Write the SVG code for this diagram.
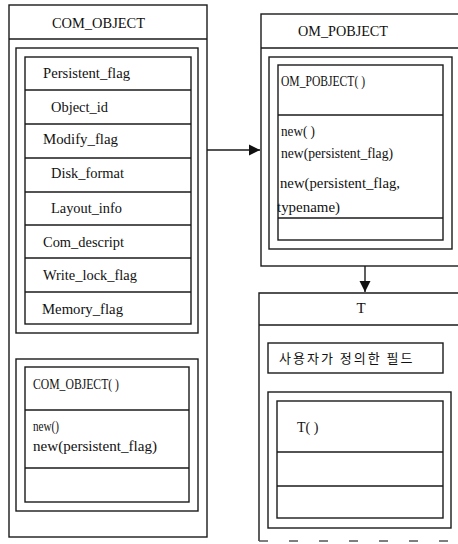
<svg xmlns="http://www.w3.org/2000/svg" width="458" height="544" viewBox="0 0 458 544">
<style>
.b{fill:none;stroke:#1a1a1a;stroke-width:1.4}
.l{stroke:#1a1a1a;stroke-width:1.4}
.t{font-family:"Liberation Serif","Times New Roman",serif;font-size:15px;fill:#111}
.m{font-family:"Liberation Serif","Times New Roman",serif;font-size:14px;fill:#111}
.k{font-family:"Noto Sans CJK KR","Noto Sans",sans-serif;font-size:13px;fill:#111;letter-spacing:2px}
</style>
<defs>
<marker id="ah" markerWidth="12" markerHeight="12" refX="11" refY="6" orient="auto" markerUnits="userSpaceOnUse">
<path d="M0,0.5 L11,6 L0,11.5 Z" fill="#111"/>
</marker>
</defs>
<rect width="458" height="544" fill="#fff"/>

<g id="com_object">
<rect class="b" x="9" y="5" width="198" height="532"/>
<line class="l" x1="9" y1="39" x2="207" y2="39"/>
<text class="t" x="52" y="28" textLength="93" lengthAdjust="spacingAndGlyphs">COM_OBJECT</text>
<rect class="b" x="16" y="48" width="182" height="285"/>
<rect class="b" x="25" y="57" width="166" height="267"/>
<line class="l" x1="25" y1="90" x2="191" y2="90"/>
<line class="l" x1="25" y1="124" x2="191" y2="124"/>
<line class="l" x1="25" y1="158" x2="191" y2="158"/>
<line class="l" x1="25" y1="192" x2="191" y2="192"/>
<line class="l" x1="25" y1="225" x2="191" y2="225"/>
<line class="l" x1="25" y1="258" x2="191" y2="258"/>
<line class="l" x1="25" y1="292" x2="191" y2="292"/>
<text class="m" x="43" y="78" textLength="87" lengthAdjust="spacingAndGlyphs">Persistent_flag</text>
<text class="m" x="51" y="112" textLength="57" lengthAdjust="spacingAndGlyphs">Object_id</text>
<text class="m" x="43" y="144" textLength="75" lengthAdjust="spacingAndGlyphs">Modify_flag</text>
<text class="m" x="51" y="178" textLength="73" lengthAdjust="spacingAndGlyphs">Disk_format</text>
<text class="m" x="51" y="213" textLength="71" lengthAdjust="spacingAndGlyphs">Layout_info</text>
<text class="m" x="43" y="247" textLength="81" lengthAdjust="spacingAndGlyphs">Com_descript</text>
<text class="m" x="43" y="280" textLength="94" lengthAdjust="spacingAndGlyphs">Write_lock_flag</text>
<text class="m" x="42" y="314" textLength="81" lengthAdjust="spacingAndGlyphs">Memory_flag</text>
<rect class="b" x="16" y="359" width="182" height="152"/>
<rect class="b" x="25" y="367" width="164" height="135"/>
<line class="l" x1="25" y1="410" x2="189" y2="410"/>
<line class="l" x1="25" y1="468" x2="189" y2="468"/>
<text class="m" x="33" y="389" textLength="86" lengthAdjust="spacingAndGlyphs">COM_OBJECT( )</text>
<text class="m" x="33" y="431" textLength="26" lengthAdjust="spacingAndGlyphs">new()</text>
<text class="m" x="33" y="451" textLength="124" lengthAdjust="spacingAndGlyphs">new(persistent_flag)</text>
</g>

<g id="om_pobject">
<rect class="b" x="261" y="14" width="210" height="252"/>
<line class="l" x1="261" y1="48" x2="471" y2="48"/>
<text class="t" x="298" y="36" textLength="90" lengthAdjust="spacingAndGlyphs">OM_POBJECT</text>
<rect class="b" x="269" y="57" width="183" height="192"/>
<rect class="b" x="278" y="65" width="165" height="175"/>
<line class="l" x1="278" y1="115" x2="443" y2="115"/>
<line class="l" x1="278" y1="218" x2="443" y2="218"/>
<text class="m" x="281" y="86" textLength="84" lengthAdjust="spacingAndGlyphs">OM_POBJECT( )</text>
<text class="m" x="281" y="136" textLength="34" lengthAdjust="spacingAndGlyphs">new( )</text>
<text class="m" x="281" y="158" textLength="112" lengthAdjust="spacingAndGlyphs">new(persistent_flag)</text>
<text class="m" x="280" y="188" textLength="120" lengthAdjust="spacingAndGlyphs">new(persistent_flag,</text>
<text class="m" x="277" y="212" textLength="63" lengthAdjust="spacingAndGlyphs">typename)</text>
</g>

<g id="t">
<path class="b" d="M259,541 L259,293 L471,293"/>
<line x1="259" y1="541" x2="458" y2="541" stroke="#555" stroke-width="1.3" stroke-dasharray="9,21"/>
<line class="l" x1="259" y1="325" x2="471" y2="325"/>
<text class="t" x="361" y="313" text-anchor="middle">T</text>
<rect class="b" x="268" y="343" width="175" height="30"/>
<text class="k" x="279" y="363">사용자가 정의한 필드</text>
<rect class="b" x="268" y="392" width="183" height="136"/>
<rect class="b" x="277" y="401" width="166" height="117"/>
<line class="l" x1="277" y1="452" x2="443" y2="452"/>
<line class="l" x1="277" y1="486" x2="443" y2="486"/>
<text class="m" x="297" y="432">T( )</text>
</g>

<g id="connectors">
<line class="l" x1="207" y1="150" x2="260" y2="150" marker-end="url(#ah)"/>
<line class="l" x1="365" y1="266" x2="365" y2="292" marker-end="url(#ah)"/>
</g>
</svg>
